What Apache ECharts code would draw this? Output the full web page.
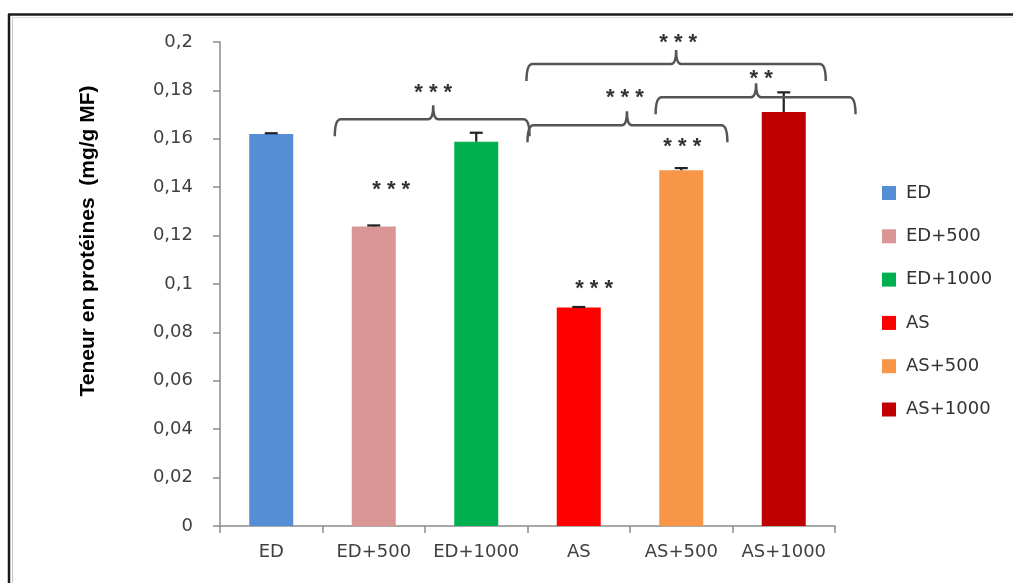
<!DOCTYPE html>
<html><head><meta charset="utf-8">
<script src="https://cdn.jsdelivr.net/npm/echarts@6/dist/echarts.min.js"></script>
<style>html,body{margin:0;padding:0;background:#fff}#c{width:1013px;height:583px}</style>
</head><body><div id="c"></div>
<script>
// ---- data ----
const categories = ['ED', 'ED+500', 'ED+1000', 'AS', 'AS+500', 'AS+1000'];
const values = [0.162, 0.1238, 0.1588, 0.0903, 0.147, 0.1711];
const errors = [0.0003, 0.0004, 0.0037, 0.0002, 0.0009, 0.0081];
const colors = ['#558ED5', '#D99694', '#00B050', '#FF0000', '#F79646', '#C00000'];
const yTicks = [0, 0.02, 0.04, 0.06, 0.08, 0.1, 0.12, 0.14, 0.16, 0.18, 0.2];
const yTitle = 'Teneur en protéines  (mg/g MF)';
// significance brackets (positions in category-span units, level in data units)
const bracketStart = [1.12, 3.00, 4.25, 2.99];
const bracketEnd = [3.02, 4.95, 6.20, 5.91];
const bracketPeak = [2.08, 3.97, 5.23, 4.45];
const bracketLevel = [0.1681, 0.1656, 0.1772, 0.1909];
// star labels
const starText = ['* * *', '* * *', '* *', '* * *', '* * *', '* * *', '* * *'];
const starX = [2.08, 3.95, 5.28, 4.47, 1.67, 3.65, 4.51];
const starY = [0.181, 0.179, 0.1867, 0.2015, 0.1408, 0.1002, 0.1586];

const chart = echarts.init(document.getElementById('c'), null, {renderer: 'canvas'});
const FONT = '"DejaVu Sans", sans-serif';
const SFONT = '"Liberation Sans", Arial, sans-serif';

const barSeries = categories.map((name, i) => ({
  name: name,
  type: 'bar',
  barWidth: 44,
  barGap: '-100%',
  itemStyle: {color: colors[i]},
  data: categories.map((c, j) => j === i ? values[i] : '-'),
  z: 2
}));

function spanX(api, pos) {
  const c0 = api.coord([0, 0]);
  const bw = api.size([1, 0])[0];
  return c0[0] - bw / 2 + pos * bw;
}

const errorSeries = {
  type: 'custom',
  name: 'err',
  z: 5,
  data: values.map((v, i) => [i, v, errors[i]]),
  encode: {x: 0, y: 1},
  renderItem: function (params, api) {
    const p1 = api.coord([api.value(0), api.value(1)]);
    const p2 = api.coord([api.value(0), api.value(1) + api.value(2)]);
    const st = {stroke: '#222', lineWidth: 2.2};
    return {type: 'group', children: [
      {type: 'line', shape: {x1: p1[0], y1: p1[1], x2: p2[0], y2: p2[1]}, style: st},
      {type: 'line', shape: {x1: p2[0] - 6.5, y1: p2[1], x2: p2[0] + 6.5, y2: p2[1]}, style: st}
    ]};
  }
};

const bracketSeries = {
  type: 'custom',
  name: 'brackets',
  z: 6,
  clip: false,
  data: bracketLevel.map((lv, i) => [0, lv]),
  encode: {x: 0, y: 1},
  renderItem: function (params, api) {
    const i = params.dataIndex;
    const yh = api.coord([0, bracketLevel[i]])[1];
    const x1 = spanX(api, bracketStart[i]);
    const x2 = spanX(api, bracketEnd[i]);
    const xp = spanX(api, bracketPeak[i]);
    const yb = yh + 17, yp = yh - 14, r = 6;
    const d = `M${x1} ${yb} Q${x1} ${yh} ${x1 + r} ${yh} L${xp - 5} ${yh} Q${xp} ${yh} ${xp} ${yp} Q${xp} ${yh} ${xp + 5} ${yh} L${x2 - r} ${yh} Q${x2} ${yh} ${x2} ${yb}`;
    return {type: 'path', shape: {pathData: d}, style: {stroke: '#555', lineWidth: 2.5, fill: null}};
  }
};

const starSeries = {
  type: 'custom',
  name: 'stars',
  z: 7,
  clip: false,
  data: starY.map((y) => [0, y]),
  encode: {x: 0, y: 1},
  renderItem: function (params, api) {
    const i = params.dataIndex;
    const x = spanX(api, starX[i]);
    const y = api.coord([0, starY[i]])[1];
    return {type: 'text', style: {text: starText[i], x: x, y: y + 5, align: 'center', verticalAlign: 'middle',
      font: 'bold 22px ' + SFONT, fill: '#333'}};
  }
};

chart.setOption({
  animation: false,
  backgroundColor: '#ffffff',
  grid: {left: 220, right: 178, top: 42, bottom: 57, containLabel: false},
  legend: {
    orient: 'vertical', left: 877, top: 179, itemWidth: 14, itemHeight: 14, itemGap: 25.3,
    icon: 'rect', data: categories,
    textStyle: {fontSize: 18, color: '#333', fontFamily: FONT, padding: [0, 0, 0, 5]}
  },
  xAxis: {
    type: 'category', data: categories,
    axisLine: {lineStyle: {color: '#8c8c8c', width: 1.5}},
    axisTick: {show: true, alignWithLabel: false, length: 7, lineStyle: {color: '#8c8c8c', width: 1.5}},
    axisLabel: {fontSize: 18, color: '#404040', fontFamily: FONT, margin: 17, interval: 0}
  },
  yAxis: {
    type: 'value', min: 0, max: 0.2, interval: 0.02,
    axisLine: {show: true, lineStyle: {color: '#8c8c8c', width: 1.5}},
    axisTick: {show: true, length: 7, lineStyle: {color: '#8c8c8c', width: 1.5}},
    splitLine: {show: false},
    axisLabel: {fontSize: 18, color: '#404040', fontFamily: FONT, margin: 27,
      formatter: v => {
        const t = yTicks.find(t => Math.abs(t - v) < 1e-9);
        return String(+((t !== undefined ? t : v).toFixed(2))).replace('.', ',');
      }}
  },
  graphic: [
    {type: 'line', shape: {x1: 8, y1: 14.5, x2: 1013, y2: 14.5}, style: {stroke: '#1a1a1a', lineWidth: 2.5}},
    {type: 'line', shape: {x1: 9, y1: 14, x2: 9, y2: 583}, style: {stroke: '#1a1a1a', lineWidth: 2.5}},
    {type: 'line', shape: {x1: 12.5, y1: 17, x2: 12.5, y2: 583}, style: {stroke: '#c8c8c8', lineWidth: 1}},
    {type: 'line', shape: {x1: 12, y1: 17.5, x2: 1013, y2: 17.5}, style: {stroke: '#d8dde6', lineWidth: 1}},
    {type: 'text', x: 88, y: 241, rotation: Math.PI / 2,
      style: {text: yTitle, align: 'center', verticalAlign: 'middle', font: 'bold 21px ' + SFONT, fill: '#000'}}
  ],
  series: [...barSeries, errorSeries, bracketSeries, starSeries]
});
</script></body></html>
